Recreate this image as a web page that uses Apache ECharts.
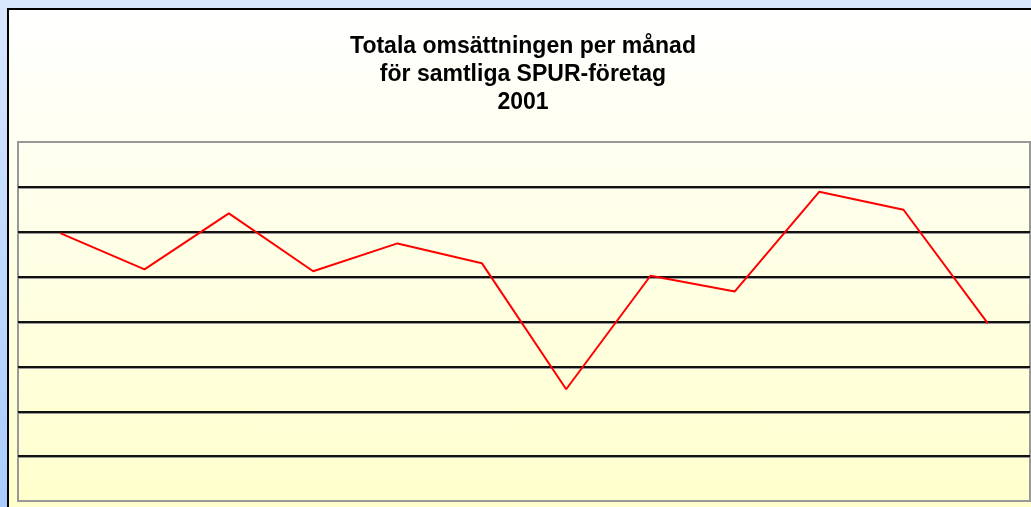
<!DOCTYPE html>
<html>
<head>
<meta charset="utf-8">
<script src="https://cdn.jsdelivr.net/npm/echarts@6/dist/echarts.min.js"></script>
<style>
  body { margin: 0; }
  #wrap { position: relative; width: 1031px; height: 507px; overflow: hidden;
          background: linear-gradient(#d8e7fd, #a9cbff); }
  #panel { position: absolute; left: 7px; top: 8px; width: 1040px; height: 520px;
           border-left: 2px solid #000; border-top: 2px solid #000;
           background: linear-gradient(#ffffff, #ffffcc 497px); }
  #chart { position: absolute; left: 0; top: 0; width: 1031px; height: 507px; }
</style>
</head>
<body>
<div id="wrap">
  <div id="panel"></div>
  <div id="chart"></div>
</div>
<script>
// months of 2001 (axis labels are hidden in the original)
var months = ['jan', 'feb', 'mar', 'apr', 'maj', 'jun', 'jul', 'aug', 'sep', 'okt', 'nov', 'dec'];
// turnover per month, read in grid units (no scale printed)
var turnover = [5.97, 5.16, 6.41, 5.12, 5.74, 5.30, 2.49, 5.02, 4.67, 6.89, 6.49, 3.96];
var titleLines = ['Totala omsättningen per månad', 'för samtliga SPUR-företag', '2001'];

var myChart = echarts.init(document.getElementById('chart'));
var option = {
  animation: false,
  title: {
    text: titleLines.join('\n'),
    left: 518,
    top: 28,
    textAlign: 'center',
    textStyle: {
      fontFamily: 'Liberation Sans',
      fontWeight: 'bold',
      fontSize: 23,
      lineHeight: 28,
      color: '#000'
    }
  },
  grid: {
    left: 18, top: 142, right: 1, bottom: 6,
    show: true,
    borderColor: '#999',
    borderWidth: 2,
    backgroundColor: 'transparent'
  },
  xAxis: {
    type: 'category',
    data: months,
    boundaryGap: true,
    axisLine: { show: false },
    axisTick: { show: false },
    axisLabel: { show: false },
    splitLine: { show: false }
  },
  yAxis: {
    type: 'value',
    min: 0, max: 8, interval: 1,
    axisLine: { show: false },
    axisTick: { show: false },
    axisLabel: { show: false },
    splitLine: {
      show: true,
      showMinLine: false,
      showMaxLine: false,
      lineStyle: { color: '#111', width: 2, shadowColor: '#999', shadowOffsetY: 1, shadowBlur: 0 }
    }
  },
  series: [{
    name: 'omsättning',
    type: 'line',
    data: turnover,
    symbol: 'none',
    lineStyle: { color: '#ff0000', width: 2 }
  }]
};
myChart.setOption(option);
</script>
</body>
</html>
